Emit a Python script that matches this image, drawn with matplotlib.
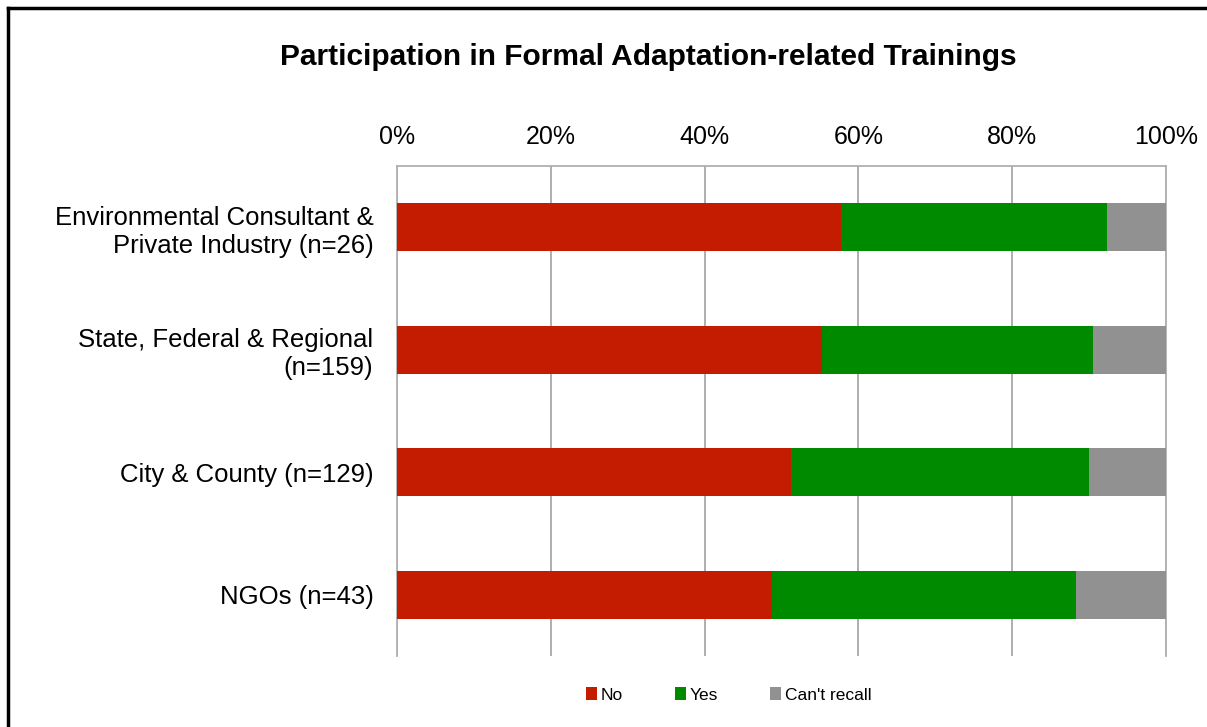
import matplotlib
matplotlib.use("Agg")
import matplotlib.pyplot as plt
from matplotlib.lines import Line2D
from matplotlib.patches import Patch
import numpy as np

plt.rcParams['font.family'] = ['Liberation Sans', 'DejaVu Sans']

# categories, top to bottom
groups = ["Environmental Consultant &\nPrivate Industry (n=26)",
          "State, Federal & Regional\n(n=159)",
          "City & County (n=129)",
          "NGOs (n=43)"]
# percentages
no_pct = [57.7, 55.3, 51.2, 48.8]
yes_pct = [34.6, 35.2, 38.8, 39.5]
cant_recall_pct = [7.7, 9.5, 10.0, 11.7]
series_names = ["No", "Yes", "Can't recall"]
series_colors = ["#c41c00", "#008a00", "#919191"]
x_ticks = [0, 20, 40, 60, 80, 100]

fig = plt.figure(figsize=(12.07, 7.27), dpi=100)
ax = fig.add_axes([397/1207, 1 - 656/727, (1166-397)/1207, (656-166)/727])

y = np.arange(len(groups))
left = np.zeros(len(groups))
for vals, name, col in zip([no_pct, yes_pct, cant_recall_pct], series_names, series_colors):
    ax.barh(y, vals, left=left, height=0.39, color=col, label=name, zorder=3)
    left = left + np.array(vals)

ax.set_xlim(0, 100)
ax.set_ylim(len(groups) - 0.5, -0.5)
ax.set_xticks(x_ticks)
ax.set_xticklabels([f"{t}%" for t in x_ticks])
ax.xaxis.tick_top()
ax.tick_params(axis='x', length=0, pad=12, labelsize=18)
ax.set_yticks(y)
ax.set_yticklabels(groups, fontsize=18.5, linespacing=1.2)
ax.tick_params(axis='y', length=0, pad=17)
ax.grid(axis='x', color='#a8a8a8', linewidth=1.3, zorder=0)
for s in ['top', 'left', 'right']:
    ax.spines[s].set_color('#b0b0b0')
    ax.spines[s].set_linewidth(1.3)
ax.spines['bottom'].set_visible(False)

fig.text(648/1207, 1 - 57/727, "Participation in Formal Adaptation-related Trainings",
         ha='center', va='center', fontsize=21.5, fontweight='bold')

handles = [Patch(facecolor=c, edgecolor='none') for c in series_colors]
fig.legend(handles, series_names, loc='center', bbox_to_anchor=(729/1207, 1 - 695/727),
           ncol=3, frameon=False, fontsize=12.5, handlelength=0.6, handleheight=0.75,
           handletextpad=0.25, columnspacing=3.0)

# frame lines (top and left of screenshot border)
fig.add_artist(Line2D([8/1207, 1], [1 - 8/727, 1 - 8/727], color='black', linewidth=2.5))
fig.add_artist(Line2D([8/1207, 8/1207], [0, 1 - 8/727], color='black', linewidth=2.5))

fig.savefig("out.png", dpi=100)
